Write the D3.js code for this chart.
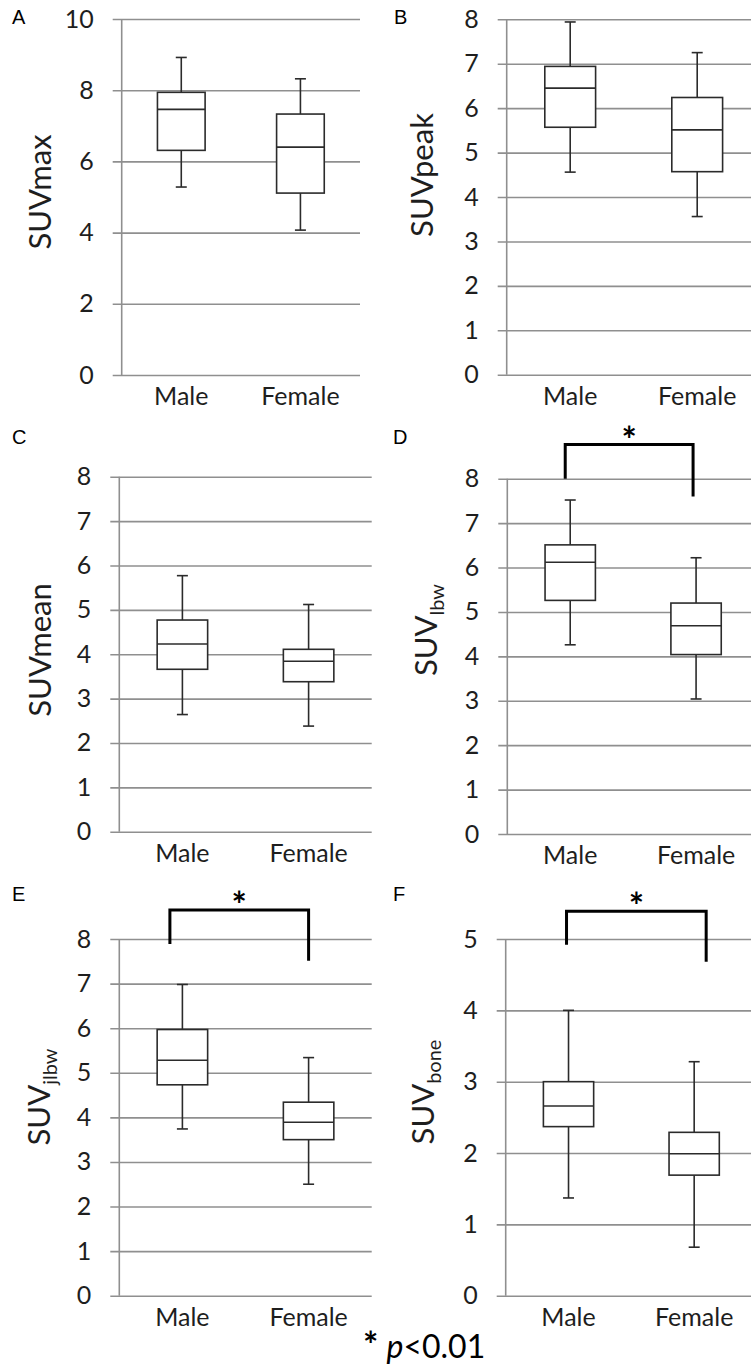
<!DOCTYPE html>
<html>
<head>
    <script src="https://d3js.org/d3.v7.min.js"></script>
    <style>
        body { margin: 0; background: #fff; }
    </style>
</head>
<body>

<script>
const categories = ['Male', 'Female'];

// five-number summaries: [lower whisker, Q1, median, Q3, upper whisker]
const suvMaxMale = [5.28, 6.31, 7.46, 7.94, 8.92];
const suvMaxFemale = [4.07, 5.11, 6.40, 7.33, 8.32];
const suvPeakMale = [4.56, 5.57, 6.45, 6.94, 7.94];
const suvPeakFemale = [3.56, 4.57, 5.51, 6.24, 7.25];
const suvMeanMale = [2.64, 3.66, 4.23, 4.77, 5.77];
const suvMeanFemale = [2.38, 3.38, 3.84, 4.11, 5.12];
const suvLbwMale = [4.26, 5.26, 6.12, 6.51, 7.52];
const suvLbwFemale = [3.04, 4.04, 4.69, 5.20, 6.22];
const suvJlbwMale = [3.74, 4.73, 5.28, 5.97, 6.98];
const suvJlbwFemale = [2.50, 3.50, 3.89, 4.34, 5.34];
const suvBoneMale = [1.37, 2.37, 2.66, 3.00, 4.00];
const suvBoneFemale = [0.68, 1.69, 1.99, 2.29, 3.28];

// tick labels
const ticksTen = [0, 2, 4, 6, 8, 10];
const ticksEight = [0, 1, 2, 3, 4, 5, 6, 7, 8];
const ticksFive = [0, 1, 2, 3, 4, 5];

// significance brackets: [top, left leg end, right leg end] in axis units
const bracketD = [8.77, 8.0, 7.6];
const bracketE = [8.65, 7.89, 7.51];
const bracketF = [5.39, 4.92, 4.68];

const font = 'Lato, "Open Sans", sans-serif';
const gridColor = '#8f8f8f';
const textColor = '#1e1e1e';
const boxColor = '#2b2b2b';

const svg = d3.select('body')
    .append('svg')
    .attr('width', 751)
    .attr('height', 1369);

const panels = [
    { letter: 'A', lx: 12, ly: 24, label: 'SUVmax', male: suvMaxMale, female: suvMaxFemale, ticks: ticksTen,
      left: 121.7, right: 360, top: 19, bottom: 375, titleX: 40, titleY: 192 },
    { letter: 'B', lx: 394, ly: 24, label: 'SUVpeak', male: suvPeakMale, female: suvPeakFemale, ticks: ticksEight,
      left: 506.7, right: 760.7, top: 19.3, bottom: 374.7, titleX: 421.7, titleY: 175 },
    { letter: 'C', lx: 12, ly: 444, label: 'SUVmean', male: suvMeanMale, female: suvMeanFemale, ticks: ticksEight,
      left: 119.3, right: 371.7, top: 476.7, bottom: 831.7, titleX: 40, titleY: 650 },
    { letter: 'D', lx: 393, ly: 444, label: 'SUV', sub: 'lbw', male: suvLbwMale, female: suvLbwFemale, ticks: ticksEight,
      left: 507.3, right: 759, top: 478.7, bottom: 834, titleX: 425.5, titleY: 630,
      bracket: bracketD, legs: [-5, -3] },
    { letter: 'E', lx: 12, ly: 901, label: 'SUV', sub: 'jlbw', male: suvJlbwMale, female: suvJlbwFemale, ticks: ticksEight,
      left: 119.3, right: 371.7, top: 939, bottom: 1295.7, titleX: 39, titleY: 1097,
      bracket: bracketE, legs: [-12.5, 0] },
    { letter: 'F', lx: 393, ly: 901, label: 'SUV', sub: 'bone', male: suvBoneMale, female: suvBoneFemale, ticks: ticksFive,
      left: 505.7, right: 757, top: 939, bottom: 1295.7, titleX: 423, titleY: 1092,
      bracket: bracketF, legs: [-2, 12] }
];

panels.forEach(drawPanel);

function drawPanel(p) {
    const g = svg.append('g');
    const yMax = d3.max(p.ticks);

    const y = d3.scaleLinear()
        .domain([0, yMax])
        .range([p.bottom, p.top]);

    const x = d3.scaleBand()
        .domain(categories)
        .range([p.left, p.right]);

    // gridlines with tick labels
    const axis = d3.axisLeft(y)
        .tickValues(p.ticks)
        .tickFormat(d3.format('d'))
        .tickSizeInner(-(p.right - p.left + 9))
        .tickSizeOuter(0)
        .tickPadding(19);

    const ag = g.append('g')
        .attr('transform', `translate(${p.left - 9},0)`)
        .call(axis);
    ag.select('.domain').remove();
    ag.selectAll('.tick line')
        .attr('stroke', gridColor)
        .attr('stroke-width', 1.6);
    ag.selectAll('.tick text')
        .attr('font-family', font)
        .attr('font-size', 25)
        .attr('fill', textColor);

    // vertical axis line
    g.append('line')
        .attr('x1', p.left).attr('x2', p.left)
        .attr('y1', y(yMax)).attr('y2', y(0))
        .attr('stroke', gridColor)
        .attr('stroke-width', 1.6);

    // category labels
    g.selectAll('text.cat')
        .data(categories)
        .enter()
        .append('text')
        .attr('class', 'cat')
        .attr('x', d => x(d) + x.bandwidth() / 2)
        .attr('y', y(0) + 30)
        .attr('text-anchor', 'middle')
        .attr('font-family', font)
        .attr('font-size', 25)
        .attr('fill', textColor)
        .text(d => d);

    // boxes
    const stats = [
        { cat: 'Male', v: p.male },
        { cat: 'Female', v: p.female }
    ];
    const boxW = x.bandwidth() * 0.4;
    const capW = 11;

    const bx = g.selectAll('g.box')
        .data(stats)
        .enter()
        .append('g')
        .attr('class', 'box')
        .attr('transform', d => `translate(${x(d.cat) + x.bandwidth() / 2},0)`);

    bx.append('line')
        .attr('x1', 0).attr('x2', 0)
        .attr('y1', d => y(d.v[4])).attr('y2', d => y(d.v[0]))
        .attr('stroke', boxColor).attr('stroke-width', 1.6);

    bx.append('line')
        .attr('x1', -capW / 2).attr('x2', capW / 2)
        .attr('y1', d => y(d.v[4])).attr('y2', d => y(d.v[4]))
        .attr('stroke', boxColor).attr('stroke-width', 1.6);

    bx.append('line')
        .attr('x1', -capW / 2).attr('x2', capW / 2)
        .attr('y1', d => y(d.v[0])).attr('y2', d => y(d.v[0]))
        .attr('stroke', boxColor).attr('stroke-width', 1.6);

    bx.append('rect')
        .attr('x', -boxW / 2)
        .attr('y', d => y(d.v[3]))
        .attr('width', boxW)
        .attr('height', d => y(d.v[1]) - y(d.v[3]))
        .attr('fill', '#fff')
        .attr('stroke', boxColor)
        .attr('stroke-width', 1.6);

    bx.append('line')
        .attr('x1', -boxW / 2).attr('x2', boxW / 2)
        .attr('y1', d => y(d.v[2])).attr('y2', d => y(d.v[2]))
        .attr('stroke', boxColor).attr('stroke-width', 1.6);

    // y title
    const title = g.append('text')
        .attr('transform', `translate(${p.titleX},${p.titleY}) rotate(-90)`)
        .attr('text-anchor', 'middle')
        .attr('dy', '0.36em')
        .attr('font-family', font)
        .attr('font-size', 31)
        .attr('fill', textColor)
        .text(p.label);
    if (p.sub) {
        title.append('tspan')
            .attr('font-size', 20)
            .attr('dy', 7)
            .text(p.sub);
    }

    // panel letter
    svg.append('text')
        .attr('x', p.lx)
        .attr('y', p.ly)
        .attr('font-family', 'Liberation Sans, Arial, sans-serif')
        .attr('font-size', 20)
        .attr('fill', '#000')
        .text(p.letter);

    // significance bracket
    if (p.bracket) {
        const xl = x('Male') + x.bandwidth() / 2 + p.legs[0];
        const xr = x('Female') + x.bandwidth() / 2 + p.legs[1];
        const yt = y(p.bracket[0]);
        g.append('path')
            .attr('d', `M${xl},${y(p.bracket[1])}V${yt}H${xr}V${y(p.bracket[2])}`)
            .attr('fill', 'none')
            .attr('stroke', '#000')
            .attr('stroke-width', 3);
        g.append('text')
            .attr('x', (xl + xr) / 2)
            .attr('y', yt + 8)
            .attr('text-anchor', 'middle')
            .attr('font-family', font)
            .attr('font-weight', 'bold')
            .attr('font-size', 36)
            .attr('fill', '#000')
            .text('*');
    }
}

// footnote
const note = svg.append('text')
    .attr('x', 363)
    .attr('y', 1358)
    .attr('font-family', font)
    .attr('font-size', 32)
    .attr('fill', '#000');
note.append('tspan')
    .attr('font-size', 36)
    .attr('font-weight', 'bold')
    .text('*');
note.append('tspan').text(' ');
note.append('tspan').attr('font-style', 'italic').text('p');
note.append('tspan').text('<0.01');
</script>

</body>
</html>
